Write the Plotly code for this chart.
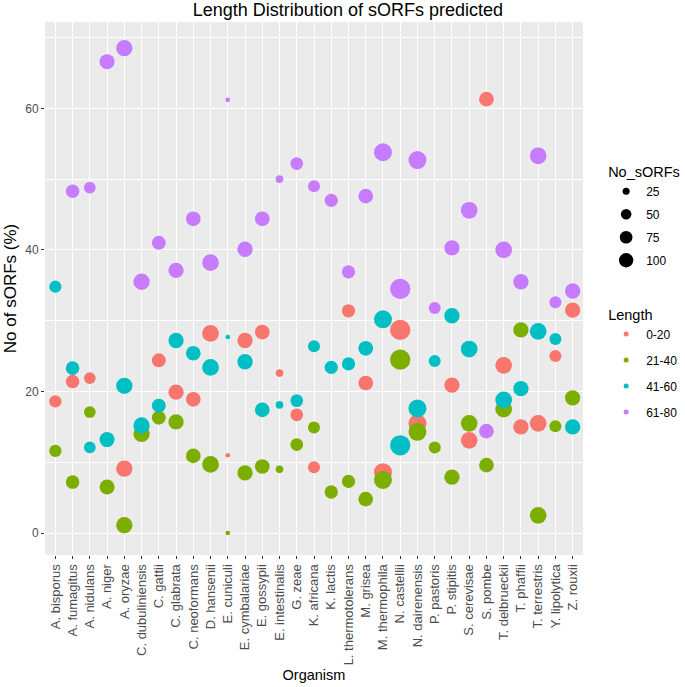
import numpy as np
import plotly.graph_objects as go

organisms = [
    "A. bisporus", "A. fumagitus", "A. nidulans", "A. niger", "A. oryzae",
    "C. dubuliniensis", "C. gattii", "C. glabrata", "C. neoformans", "D. hansenii",
    "E. cuniculi", "E. cymbalariae", "E. gossypii", "E. intestinalis", "G. zeae",
    "K. africana", "K. lactis", "L. thermotolerans", "M. grisea", "M. thermophila",
    "N. castellii", "N. dairenensis", "P. pastoris", "P. stipitis", "S. cerevisae",
    "S. pombe", "T. delbrueckii", "T. phaffii", "T. terrestris", "Y. lipolytica",
    "Z. rouxii",
]

# number of predicted sORFs per organism (bubble size)
no_sorfs = [70, 88, 63, 112, 137, 137, 95, 118, 107, 145,
            20, 118, 107, 28, 76, 67, 84, 84, 107, 173,
            230, 173, 67, 118, 145, 107, 145, 118, 145, 67,
            118]

# % of sORFs in each length class (None = not present)
len_0_20 = [18.6, 21.4, 21.9, None, 9.1, None, 24.4, 19.9, 18.9, 28.2,
            11.0, 27.2, 28.4, 22.6, 16.7, 9.3, None, 31.4, 21.2, 8.6,
            28.7, 15.5, None, 20.9, 13.1, 61.3, 23.7, 15.0, 15.5, 25.0,
            31.5]
len_21_40 = [11.6, 7.2, 17.1, 6.5, 1.1, 14.0, 16.3, 15.7, 10.9, 9.7,
             0.0, 8.5, 9.4, 9.0, 12.5, 14.9, 5.8, 7.3, 4.8, 7.5,
             24.5, 14.3, 12.1, 7.9, 15.5, 9.6, 17.5, 28.7, 2.5, 15.1,
             19.1]
len_41_60 = [34.8, 23.3, 12.1, 13.2, 20.8, 15.2, 18.0, 27.2, 25.4, 23.4,
             27.7, 24.2, 17.4, 18.1, 18.7, 26.4, 23.4, 23.9, 26.1, 30.2,
             12.4, 17.6, 24.3, 30.7, 26.0, None, 18.8, 20.4, 28.5, 27.4,
             15.0]
len_61_80 = [None, 48.3, 48.8, 66.6, 68.5, 35.5, 41.0, 37.1, 44.4, 38.2,
             61.2, 40.1, 44.4, 50.0, 52.2, 49.0, 47.0, 36.9, 47.6, 53.8,
             34.5, 52.7, 31.8, 40.3, 45.6, 14.4, 40.0, 35.5, 53.3, 32.6,
             34.2]

length_labels = ["0-20", "21-40", "41-60", "61-80"]
length_colors = ["#F8766D", "#7CAE00", "#00BFC4", "#C77CFF"]
size_breaks = [25, 50, 75, 100]

FONT = "Liberation Sans, Arial, sans-serif"
n = np.array(no_sorfs, dtype=float)


def dot_size(v):
    # ggplot-like scale_size: diameter grows with sqrt of rescaled value
    v = np.asarray(v, dtype=float)
    return 4.6 + 15.7 * np.sqrt((v - n.min()) / (n.max() - n.min()))


fig = go.Figure()

for label, color, vals in zip(length_labels, length_colors,
                              [len_0_20, len_21_40, len_41_60, len_61_80]):
    keep = [i for i, v in enumerate(vals) if v is not None]
    fig.add_trace(go.Scatter(
        x=[organisms[i] for i in keep],
        y=[vals[i] for i in keep],
        mode="markers",
        marker=dict(color=color, size=dot_size([no_sorfs[i] for i in keep]),
                    line=dict(width=0), opacity=1),
        showlegend=False,
    ))

# size legend
for b in size_breaks:
    fig.add_trace(go.Scatter(
        x=[None], y=[None], mode="markers", name=str(b),
        marker=dict(color="black", size=float(dot_size(b)), line=dict(width=0)),
        legend="legend", legendgroup=f"s{b}",
    ))

# colour legend
for label, color in zip(length_labels, length_colors):
    fig.add_trace(go.Scatter(
        x=[None], y=[None], mode="markers", name=label,
        marker=dict(color=color, size=5, line=dict(width=0)),
        legend="legend2", legendgroup=f"c{label}",
    ))

fig.update_layout(
    width=685,
    height=687,
    margin=dict(l=45, r=102, t=22, b=132, autoexpand=False),
    paper_bgcolor="white",
    plot_bgcolor="#EBEBEB",
    font=dict(family=FONT, color="black"),
    title=dict(text="Length Distribution of sORFs predicted",
               x=0.563, xref="paper", xanchor="center",
               y=1 - 10 / 687, yanchor="middle",
               font=dict(size=18, color="black")),
    legend=dict(x=1.043, y=0.745, xanchor="left", yanchor="top",
                title=dict(text="No_sORFs", font=dict(size=14.5)),
                font=dict(size=12, color="black"),
                itemsizing="trace", tracegroupgap=4,
                bgcolor="rgba(0,0,0,0)"),
    legend2=dict(x=1.043, y=0.477, xanchor="left", yanchor="top",
                 title=dict(text="Length", font=dict(size=14.5)),
                 font=dict(size=12, color="black"),
                 itemsizing="trace", tracegroupgap=7,
                 bgcolor="rgba(0,0,0,0)"),
)

fig.update_xaxes(
    type="category",
    categoryorder="array",
    categoryarray=organisms,
    range=[-0.6, len(organisms) - 0.4],
    tickangle=-90,
    ticks="outside", ticklen=3, tickcolor="#333333",
    tickfont=dict(size=13, color="#4D4D4D"),
    showgrid=True, gridcolor="white", gridwidth=1.1,
    zeroline=False, showline=False, automargin=False,
    title=dict(text="Organism", font=dict(size=14.5), standoff=5),
)
fig.update_yaxes(
    range=[-3.1, 72.2],
    tick0=0, dtick=20,
    ticks="outside", ticklen=3, tickcolor="#333333",
    tickfont=dict(size=12, color="#4D4D4D"),
    showgrid=True, gridcolor="white", gridwidth=1.1,
    minor=dict(tick0=0, dtick=10, showgrid=True, gridcolor="white", gridwidth=0.5),
    zeroline=False, showline=False, automargin=False,
    title=dict(text="No of sORFs (%)", font=dict(size=17), standoff=4),
)

fig.write_html("out.html", config={"displayModeBar": False},
               post_script="document.body.style.margin='0px';")
